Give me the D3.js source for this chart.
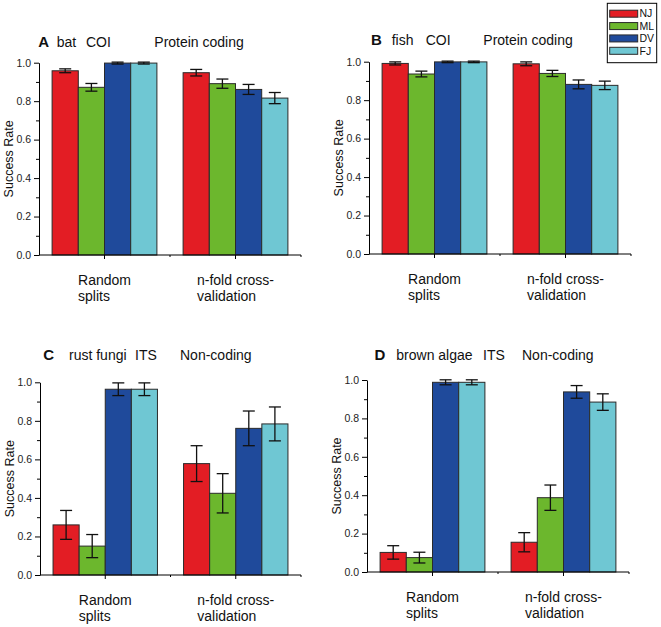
<!DOCTYPE html>
<html>
<head>
<meta charset="utf-8">
<script src="https://cdn.jsdelivr.net/npm/d3@7"></script>
<style>
  html, body { margin: 0; padding: 0; background: #fff; }
  svg { display: block; font-family: "Liberation Sans", Arial, sans-serif; }
</style>
</head>
<body>
<svg id="chart" width="661" height="627"></svg>
<script>
// ---------- data ----------
const groups = ["Random splits", "n-fold cross-validation"];
const groupLines = [["Random", "splits"], ["n-fold cross-", "validation"]];
const methods = ["NJ", "ML", "DV", "FJ"];
const colors = ["#e31d24", "#6cb72d", "#1f4a9b", "#6fc7d3"];
const yTicks = [0, 0.2, 0.4, 0.6, 0.8, 1.0];
const yMinorTicks = [0.1, 0.3, 0.5, 0.7, 0.9];
const yLabel = "Success Rate";

const batMean   = [[0.958, 0.872, 0.998, 0.998], [0.948, 0.891, 0.861, 0.816]];
const batErr    = [[0.010, 0.020, 0.005, 0.005], [0.017, 0.024, 0.026, 0.029]];
const fishMean  = [[0.991, 0.936, 0.999, 0.999], [0.989, 0.939, 0.882, 0.877]];
const fishErr   = [[0.008, 0.015, 0.004, 0.004], [0.010, 0.016, 0.023, 0.022]];
const fungiMean = [[0.260, 0.150, 0.964, 0.964], [0.578, 0.424, 0.761, 0.784]];
const fungiErr  = [[0.075, 0.060, 0.033, 0.033], [0.093, 0.102, 0.090, 0.088]];
const algaeMean = [[0.102, 0.075, 0.988, 0.988], [0.155, 0.387, 0.938, 0.885]];
const algaeErr  = [[0.035, 0.028, 0.013, 0.013], [0.050, 0.066, 0.033, 0.043]];

const titleA = ["A", "bat", "COI", "Protein coding"];
const titleB = ["B", "fish", "COI", "Protein coding"];
const titleC = ["C", "rust fungi", "ITS", "Non-coding"];
const titleD = ["D", "brown algae", "ITS", "Non-coding"];

// ---------- layout ----------
const panels = [
  { mean: batMean,   err: batErr,   title: titleA, x0: 39,  x1: 301, yBot: 255, yTop: 62.7, titleDx: [-0.7, 17.7, 47, 115.3], titleY: 47 },
  { mean: fishMean,  err: fishErr,  title: titleB, x0: 369, x1: 631, yBot: 254, yTop: 61.7, titleDx: [2, 22.7, 56.7, 114.3], titleY: 45 },
  { mean: fungiMean, err: fungiErr, title: titleC, x0: 40,  x1: 301, yBot: 575, yTop: 382.3, titleDx: [3.3, 29, 95, 140], titleY: 359.5 },
  { mean: algaeMean, err: algaeErr, title: titleD, x0: 367, x1: 629, yBot: 572, yTop: 380, titleDx: [7.6, 29.3, 116, 155], titleY: 360 }
];

const svg = d3.select("#chart");

panels.forEach(p => {
  const g = svg.append("g");
  const y = d3.scaleLinear().domain([0, 1]).range([p.yBot, p.yTop]);
  const x = d3.scaleBand().domain(groups).range([p.x0, p.x1]).paddingInner(0.2).paddingOuter(0.1);
  const xi = d3.scaleBand().domain(methods).range([0, x.bandwidth()]).padding(0);

  // bars
  groups.forEach((grp, gi) => {
    const gg = g.append("g").attr("transform", `translate(${x(grp)},0)`);
    gg.selectAll("rect").data(methods).join("rect")
      .attr("x", m => xi(m))
      .attr("width", xi.bandwidth())
      .attr("y", (m, i) => y(p.mean[gi][i]))
      .attr("height", (m, i) => y(0) - y(p.mean[gi][i]))
      .attr("fill", (m, i) => colors[i])
      .attr("stroke", "#2a2a2a")
      .attr("stroke-width", 1);
    // error bars
    const eb = gg.selectAll("g.eb").data(methods).join("g").attr("class", "eb");
    const cx = m => xi(m) + xi.bandwidth() / 2;
    const capW = 6;
    eb.append("line")
      .attr("x1", cx).attr("x2", cx)
      .attr("y1", (m, i) => y(p.mean[gi][i] + p.err[gi][i]))
      .attr("y2", (m, i) => y(p.mean[gi][i] - p.err[gi][i]))
      .attr("stroke", "#111").attr("stroke-width", 1.3);
    [1, -1].forEach(s => {
      eb.append("line")
        .attr("x1", m => cx(m) - capW).attr("x2", m => cx(m) + capW)
        .attr("y1", (m, i) => y(p.mean[gi][i] + s * p.err[gi][i]))
        .attr("y2", (m, i) => y(p.mean[gi][i] + s * p.err[gi][i]))
        .attr("stroke", "#111").attr("stroke-width", 1.3);
    });
  });

  // y axis
  const yAxis = g.append("g").attr("transform", `translate(${p.x0},0)`)
    .call(d3.axisLeft(y).tickValues(yTicks).tickFormat(d3.format(".1f")).tickSize(5).tickPadding(3).tickSizeOuter(0));
  yAxis.select(".domain").attr("stroke", "#000");
  yAxis.selectAll("text").attr("font-size", 10.5).attr("fill", "#222").attr("font-family", "Liberation Sans, Arial, sans-serif");
  const yMinor = g.append("g").attr("transform", `translate(${p.x0},0)`)
    .call(d3.axisLeft(y).tickValues(yMinorTicks).tickFormat("").tickSize(3).tickSizeOuter(0));
  yMinor.select(".domain").remove();

  // x axis
  const xAxis = g.append("g").attr("transform", `translate(0,${p.yBot})`)
    .call(d3.axisBottom(x).tickFormat("").tickSize(4).tickSizeOuter(0));
  xAxis.select(".domain").attr("stroke", "#000").attr("d", `M${p.x0},0H${p.x1}`);
  // minor x ticks at group boundaries
  const bounds = [p.x0 + x.step(), p.x1];
  g.append("g").selectAll("line").data(bounds).join("line")
    .attr("x1", d => d).attr("x2", d => d)
    .attr("y1", p.yBot).attr("y2", p.yBot + 2)
    .attr("stroke", "#000");

  // category labels (left-aligned block centered on tick)
  groups.forEach((grp, gi) => {
    const cxg = x(grp) + x.bandwidth() / 2;
    const t = g.append("text").attr("font-size", 14).attr("fill", "#111");
    groupLines[gi].forEach((ln, li) => {
      t.append("tspan").attr("y", p.yBot + 30 + li * 15.5).text(ln);
    });
    const widths = [];
    t.selectAll("tspan").each(function () { widths.push(this.getComputedTextLength()); });
    const left = cxg - d3.max(widths) / 2;
    t.selectAll("tspan").attr("x", left);
  });

  // y label
  g.append("text")
    .attr("transform", `translate(${p.x0 - 26.5},${(p.yBot + p.yTop) / 2}) rotate(-90)`)
    .attr("text-anchor", "middle")
    .attr("font-size", 12.5).attr("fill", "#111")
    .text(yLabel);

  // title
  p.title.forEach((s, i) => {
    g.append("text")
      .attr("x", p.x0 + p.titleDx[i]).attr("y", p.titleY)
      .attr("font-size", i === 0 ? 15 : 14)
      .attr("font-weight", i === 0 ? "bold" : "normal")
      .attr("fill", "#111")
      .text(s);
  });
});

// legend
const lg = svg.append("g");
lg.append("rect").attr("x", 607.3).attr("y", 3.3).attr("width", 49.4).attr("height", 59.4)
  .attr("fill", "#fff").attr("stroke", "#000").attr("stroke-width", 1);
const ly = d3.scalePoint().domain(methods).range([13.7, 50.8]);
methods.forEach((m, i) => {
  lg.append("rect").attr("x", 609.7).attr("y", ly(m) - 3.5).attr("width", 28).attr("height", 7)
    .attr("fill", colors[i]).attr("stroke", "#2a2a2a").attr("stroke-width", 1);
  lg.append("text").attr("x", 639.5).attr("y", ly(m) + 3.7).attr("font-size", 10.5).attr("fill", "#111").text(m);
});
</script>
</body>
</html>
